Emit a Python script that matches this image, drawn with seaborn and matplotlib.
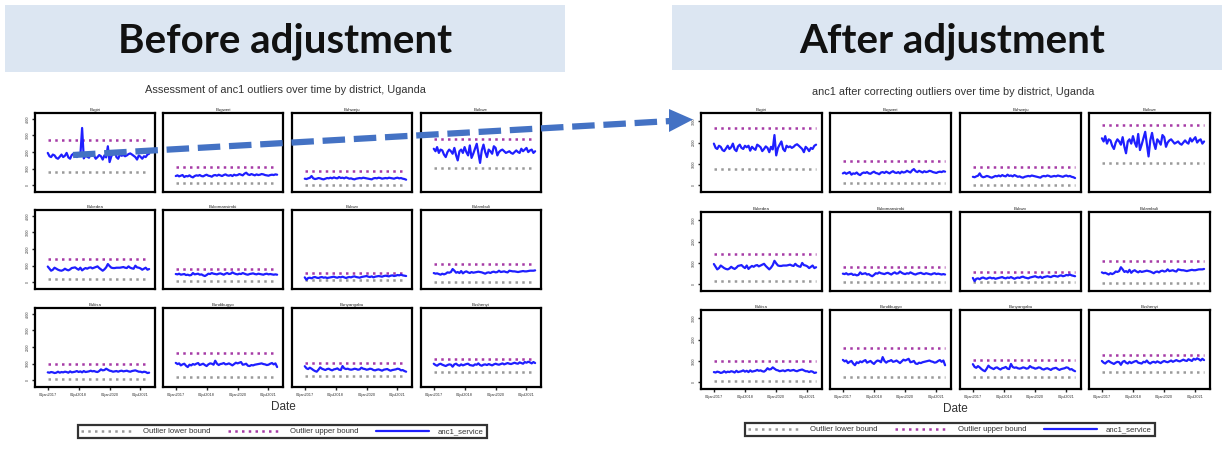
import numpy as np
import pandas as pd
import matplotlib
matplotlib.use("Agg")
import matplotlib.pyplot as plt
import seaborn as sns
from matplotlib.lines import Line2D
from matplotlib.patches import Rectangle, Polygon

W, H = 1225, 453

# ---------------------------------------------------------------- data
districts = ["Bugiri", "Bugweri", "Buhweju", "Buikwe",
             "Bukedea", "Bukomansimbi", "Bukwo", "Bulambuli",
             "Buliisa", "Bundibugyo", "Bunyangabu", "Bushenyi"]

lower_bound = [780, 130, 0, 1060, 180, 100, 120, 50, 80, 230, 240, 480]
upper_bound = [2700, 1130, 880, 2800, 1400, 820, 580, 1080, 1000, 1620, 1060, 1270]

# monthly anc1 service counts, Jan 2017 - Dec 2021
anc1_bugiri = [1950, 1750, 1700, 1850, 1800, 1650, 1600, 1720, 1850, 1700, 1780, 1950,
               1680, 1600, 1820, 1900, 1750, 1700, 1850, 1780, 3450, 1620, 1800, 1720,
               1660, 1900, 1850, 1780, 1600, 1700, 1820, 1750, 1550, 1800, 1680, 2350,
               1400, 1750, 1900, 2050, 1700, 1600, 1850, 1780, 1820, 1750, 1800, 1880,
               1920, 1850, 1780, 1700, 1550, 1800, 1720, 1600, 1750, 1700, 1850, 1900]
anc1_bugweri = [560, 600, 540, 580, 620, 500, 560, 540, 600, 520, 480, 560,
                600, 580, 620, 560, 540, 600, 640, 580, 560, 520, 600, 620,
                580, 640, 600, 560, 620, 660, 600, 580, 620, 560, 640, 600,
                620, 680, 640, 600, 700, 760, 660, 620, 680, 640, 600, 660,
                620, 640, 680, 660, 620, 600, 580, 620, 640, 620, 660, 640]
anc1_buhweju = [400, 380, 420, 450, 560, 420, 380, 400, 440, 420, 380, 360,
                400, 440, 420, 460, 420, 480, 440, 420, 500, 440, 460, 420,
                480, 440, 400, 420, 380, 360, 400, 420, 440, 420, 460, 440,
                420, 400, 380, 360, 420, 440, 420, 460, 440, 400, 420, 440,
                420, 460, 440, 420, 400, 440, 460, 420, 440, 400, 380, 340]
anc1_buikwe = [2200, 2050, 2300, 1950, 2150, 2100, 1850, 1700, 2000, 2150, 2050, 1900,
               2250, 1800, 1500, 2050, 2150, 1950, 2300, 2000, 1800, 2400, 1650, 1900,
               2200, 2500, 1950, 1350, 2100, 2450, 2000, 1700, 2150, 2050, 1900, 2350,
               2250, 1800, 2000, 2100, 2150, 2050, 1950, 2000, 2050, 1950, 1900, 2000,
               2100, 2000, 1950, 2200, 2050, 2150, 2250, 2000, 2100, 2150, 1950, 2050]
anc1_bukedea = [950, 820, 700, 760, 880, 820, 760, 720, 700, 740, 820, 760,
                720, 780, 860, 880, 900, 820, 760, 880, 720, 800, 860, 820,
                880, 900, 840, 880, 920, 960, 860, 780, 700, 780, 900, 1100,
                980, 880, 860, 860, 880, 880, 880, 900, 920, 880, 860, 960,
                880, 840, 820, 1000, 900, 880, 840, 760, 820, 880, 760, 800]
anc1_bukomansimbi = [500, 480, 520, 460, 480, 500, 440, 460, 420, 440, 560, 480,
                     500, 520, 460, 480, 420, 380, 440, 520, 500, 560, 520, 500,
                     480, 520, 540, 500, 460, 520, 560, 500, 520, 600, 540, 500,
                     480, 520, 500, 560, 520, 480, 460, 500, 520, 540, 500, 480,
                     520, 500, 480, 460, 500, 520, 480, 500, 480, 460, 480, 460]
anc1_bukwo = [300, 150, 260, 280, 240, 300, 320, 280, 260, 300, 320, 280,
              300, 260, 280, 300, 320, 340, 300, 280, 320, 300, 340, 300,
              260, 300, 320, 300, 340, 360, 320, 300, 280, 320, 340, 360,
              380, 340, 320, 360, 300, 340, 360, 380, 360, 340, 380, 400,
              380, 360, 400, 420, 380, 400, 440, 420, 460, 420, 400, 380]
anc1_bulambuli = [560, 520, 540, 500, 460, 520, 480, 520, 600, 580, 620, 800,
                  700, 580, 620, 560, 680, 540, 620, 660, 600, 560, 620, 580,
                  600, 620, 640, 620, 600, 560, 520, 580, 600, 560, 620, 640,
                  600, 620, 700, 620, 640, 660, 620, 600, 700, 680, 660, 660,
                  640, 620, 640, 660, 680, 660, 660, 680, 700, 700, 700, 720]
anc1_buliisa = [480, 460, 500, 480, 440, 460, 520, 460, 500, 480, 520, 500,
                460, 540, 480, 500, 520, 560, 500, 540, 480, 560, 500, 520,
                540, 580, 540, 560, 520, 500, 560, 660, 600, 620, 700, 640,
                580, 560, 520, 540, 560, 520, 560, 580, 540, 560, 580, 540,
                520, 560, 580, 600, 560, 520, 520, 480, 520, 500, 440, 460]
anc1_bundibugyo = [1050, 980, 1020, 900, 960, 1000, 880, 800, 940, 900, 980, 940,
                   1000, 1040, 920, 960, 1000, 920, 860, 960, 1020, 1000, 940, 1180,
                   1000, 920, 980, 1000, 1040, 960, 980, 1020, 960, 900, 980, 1060,
                   1020, 1060, 1100, 940, 960, 1000, 880, 860, 920, 900, 940, 960,
                   980, 1000, 1020, 980, 960, 920, 940, 1000, 1040, 960, 1020, 800]
anc1_bunyangabu = [850, 720, 680, 760, 700, 620, 560, 520, 640, 780, 700, 660,
                   620, 680, 700, 640, 600, 660, 680, 720, 640, 620, 860, 720,
                   680, 700, 660, 640, 660, 700, 680, 640, 660, 760, 700, 680,
                   640, 660, 700, 680, 620, 600, 640, 660, 620, 580, 640, 660,
                   680, 620, 580, 620, 640, 660, 700, 680, 600, 620, 560, 520]
anc1_bushenyi = [1000, 920, 880, 960, 1000, 940, 900, 860, 920, 960, 940, 820,
                 960, 1000, 920, 880, 960, 900, 940, 980, 1000, 920, 900, 880,
                 960, 940, 1020, 920, 880, 940, 960, 920, 980, 940, 900, 960,
                 1000, 960, 940, 980, 1020, 960, 1000, 1040, 1000, 980, 1020, 1060,
                 1020, 1000, 1080, 1040, 1000, 1100, 1060, 1120, 1080, 1020, 1100, 1040]

anc1_series = [anc1_bugiri, anc1_bugweri, anc1_buhweju, anc1_buikwe,
               anc1_bukedea, anc1_bukomansimbi, anc1_bukwo, anc1_bulambuli,
               anc1_buliisa, anc1_bundibugyo, anc1_bunyangabu, anc1_bushenyi]

# outlying months replaced after review (district -> {month index: corrected value})
corrections = {"Bugiri": {20: 1850}}

months = pd.date_range("2017-01-01", periods=60, freq="MS")
tick_dates = pd.to_datetime(["2017-01-01", "2018-07-01", "2020-01-01", "2021-07-01"])
tick_labels = ["01jan2017", "01jul2018", "01jan2020", "01jul2021"]

before_yticks = [0, 1000, 2000, 3000, 4000]
after_yticks = [0, 1000, 2000, 3000]

# ---------------------------------------------------------------- styling
sns.set_style("white")
plt.rcParams["font.family"] = ["Liberation Sans", "DejaVu Sans"]

LINE_BLUE = "#1f1fff"
UPPER_COL = "#a63ba6"
LOWER_COL = "#9a9a9a"
DOT = (0, (1, 1.7))
HEADER_BG = "#dce6f2"
ARROW_COL = "#4472c4"
TXT = "#333333"

fig = plt.figure(figsize=(W / 100, H / 100), dpi=100)


def px_axes(x0, y0, x1, y1, **kw):
    return fig.add_axes([x0 / W, 1 - y1 / H, (x1 - x0) / W, (y1 - y0) / H], **kw)


# full-figure layer in pixel units for the slide headers
deco = px_axes(0, 0, W, H, zorder=-1)
deco.set_xlim(0, W)
deco.set_ylim(H, 0)
deco.axis("off")

deco.add_patch(Rectangle((5, 5), 560, 67, facecolor=HEADER_BG, edgecolor="none"))
deco.add_patch(Rectangle((672, 5), 550, 65, facecolor=HEADER_BG, edgecolor="none"))
deco.text(285, 41, "Before adjustment", ha="center", va="center",
          fontsize=29, fontweight="bold", color="#111111", family=["Lato"])
deco.text(952, 41, "After adjustment", ha="center", va="center",
          fontsize=29, fontweight="bold", color="#111111", family=["Lato"])


def draw_panels(x_starts, y_starts, wpx, hpx, ylim, yticks, corrected):
    for i, name in enumerate(districts):
        r, c = divmod(i, 4)
        ax = px_axes(x_starts[c], y_starts[r], x_starts[c] + wpx, y_starts[r] + hpx)
        values = list(anc1_series[i])
        if corrected:
            for k, v in corrections.get(name, {}).items():
                values[k] = v
        ends = [months[0], months[-1]]
        sns.lineplot(x=ends, y=[lower_bound[i]] * 2, ax=ax, color=LOWER_COL,
                     lw=1.8, linestyle=DOT, legend=False)
        sns.lineplot(x=ends, y=[upper_bound[i]] * 2, ax=ax, color=UPPER_COL,
                     lw=1.8, linestyle=DOT, legend=False)
        sns.lineplot(x=months, y=values, ax=ax, color=LINE_BLUE, lw=1.6,
                     legend=False)
        ax.set_xlim(pd.Timestamp("2016-05-20"), pd.Timestamp("2022-03-15"))
        ax.set_ylim(*ylim)
        ax.set_xlabel("")
        ax.set_ylabel("")
        ax.set_title(name, fontsize=3.2, pad=1.5, color="#222222")
        for s in ax.spines.values():
            s.set_linewidth(1.6)
            s.set_color("black")
        if r == 2:
            ax.set_xticks(tick_dates)
            ax.set_xticklabels(tick_labels, fontsize=2.8, color=TXT)
            ax.tick_params(axis="x", length=2.5, width=1.0, pad=1.5, bottom=True)
        else:
            ax.set_xticks([])
        if c == 0:
            ax.set_yticks(yticks)
            ax.set_yticklabels([str(t) for t in yticks], fontsize=2.4,
                               rotation=90, va="center", color=TXT)
            ax.tick_params(axis="y", length=2.5, width=1.0, pad=1.5, left=True)
        else:
            ax.set_yticks([])


draw_panels([35, 163, 292, 421], [113, 210, 308], 120, 79,
            (-400, 4350), before_yticks, corrected=False)
draw_panels([701, 830, 960, 1089], [113, 212, 310], 121, 79,
            (-310, 3380), after_yticks, corrected=True)

deco.text(285, 90, "Assessment of anc1 outliers over time by district, Uganda",
          ha="center", va="center", fontsize=7.9, color=TXT)
deco.text(953, 92, "anc1 after correcting outliers over time by district, Uganda",
          ha="center", va="center", fontsize=7.9, color=TXT)
deco.text(283, 407, "Date", ha="center", va="center", fontsize=8.5, color=TXT)
deco.text(955, 409, "Date", ha="center", va="center", fontsize=8.5, color=TXT)

handles = [Line2D([], [], color=LOWER_COL, lw=1.8, linestyle=DOT),
           Line2D([], [], color=UPPER_COL, lw=1.8, linestyle=DOT),
           Line2D([], [], color=LINE_BLUE, lw=1.6)]
labels = ["Outlier lower bound", "Outlier upper bound", "anc1_service"]

for (x0, y0, x1, y1) in [(78, 418, 487, 445), (745, 412, 1155, 447)]:
    lax = px_axes(x0, y0, x1, y1)
    lax.axis("off")
    leg = lax.legend(handles, labels, loc="center", ncol=3, fontsize=5.6,
                     bbox_to_anchor=(0, 0, 1, 1), mode="expand", frameon=True,
                     handlelength=6.8, handletextpad=1.2, borderaxespad=0,
                     fancybox=False)
    leg.get_frame().set_edgecolor("black")
    leg.get_frame().set_linewidth(1.6)
    for t in leg.get_texts():
        t.set_color(TXT)

# dashed connector arrow running from the left grid to the right grid
top = px_axes(0, 0, W, H, zorder=10)
top.set_xlim(0, W)
top.set_ylim(H, 0)
top.axis("off")
top.patch.set_alpha(0)
top.add_line(Line2D([73, 671], [155, 121], color=ARROW_COL, lw=4.5,
                    linestyle=(0, (3.6, 1.4)), solid_capstyle="butt"))
top.add_patch(Polygon([[669, 109], [693, 119.5], [669, 132]], closed=True,
                      facecolor=ARROW_COL, edgecolor="none"))

fig.savefig("out.png", dpi=100, facecolor="white")
